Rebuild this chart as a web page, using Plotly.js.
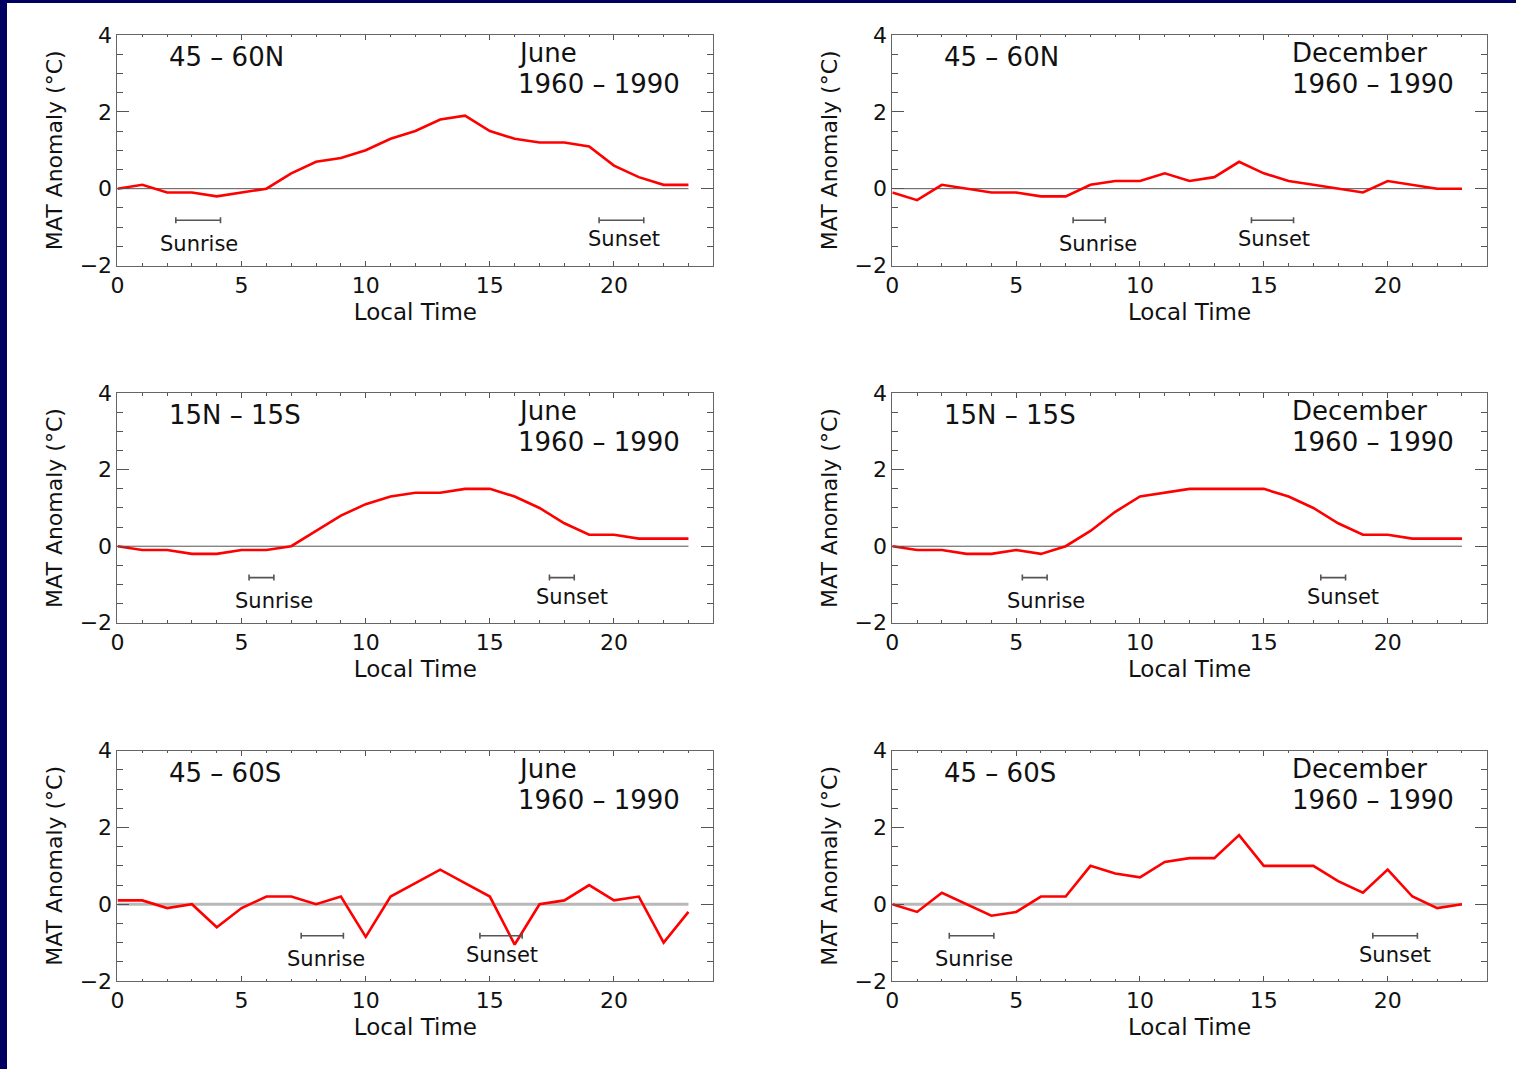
<!DOCTYPE html>
<html>
<head>
<meta charset="utf-8">
<script src="https://cdn.plot.ly/plotly-3.0.1.min.js"></script>
<style>
  html, body { margin: 0; padding: 0; background: #ffffff; }
  #chart { width: 1516px; height: 1069px; }
</style>
</head>
<body>
<div id="chart"></div>
<script>
// ---------------- data ----------------
const hours = [0, 1, 2, 3, 4, 5, 6, 7, 8, 9, 10, 11, 12, 13, 14, 15, 16, 17, 18, 19, 20, 21, 22, 23];

const regions = ["45 – 60N", "15N – 15S", "45 – 60S"];
const months = ["June", "December"];
const period = "1960 – 1990";

// MAT anomaly (°C) by local hour
const june45to60N = [0, 0.1, -0.1, -0.1, -0.2, -0.1, 0, 0.4, 0.7, 0.8, 1.0, 1.3, 1.5, 1.8, 1.9, 1.5, 1.3, 1.2, 1.2, 1.1, 0.6, 0.3, 0.1, 0.1];
const dec45to60N  = [-0.1, -0.3, 0.1, 0, -0.1, -0.1, -0.2, -0.2, 0.1, 0.2, 0.2, 0.4, 0.2, 0.3, 0.7, 0.4, 0.2, 0.1, 0, -0.1, 0.2, 0.1, 0, 0];
const june15Nto15S = [0, -0.1, -0.1, -0.2, -0.2, -0.1, -0.1, 0, 0.4, 0.8, 1.1, 1.3, 1.4, 1.4, 1.5, 1.5, 1.3, 1.0, 0.6, 0.3, 0.3, 0.2, 0.2, 0.2];
const dec15Nto15S  = [0, -0.1, -0.1, -0.2, -0.2, -0.1, -0.2, 0, 0.4, 0.9, 1.3, 1.4, 1.5, 1.5, 1.5, 1.5, 1.3, 1.0, 0.6, 0.3, 0.3, 0.2, 0.2, 0.2];
const june45to60S = [0.1, 0.1, -0.1, 0, -0.6, -0.1, 0.2, 0.2, 0, 0.2, -0.85, 0.2, 0.55, 0.9, 0.55, 0.2, -1.05, 0, 0.1, 0.5, 0.1, 0.2, -1.0, -0.2];
const dec45to60S  = [0, -0.2, 0.3, 0, -0.3, -0.2, 0.2, 0.2, 1.0, 0.8, 0.7, 1.1, 1.2, 1.2, 1.8, 1.0, 1.0, 1.0, 0.6, 0.3, 0.9, 0.2, -0.1, 0];

// sunrise / sunset ranges (local hour), panel order: row by row, June then December
const sunriseStart = [2.35, 7.3, 5.3, 5.25, 7.4, 2.3];
const sunriseEnd   = [4.15, 8.6, 6.3, 6.25, 9.1, 4.1];
const sunsetStart  = [19.4, 14.5, 17.4, 17.3, 14.6, 19.4];
const sunsetEnd    = [21.2, 16.2, 18.4, 18.3, 16.3, 21.2];

const series = [june45to60N, dec45to60N, june15Nto15S, dec15Nto15S, june45to60S, dec45to60S];

// ---------------- layout helpers ----------------
const FONT = "DejaVu Sans, Liberation Sans, Arial, sans-serif";
const xDomains = [[0.0775, 0.4705], [0.5886, 0.9807]];
const yDomains = [[0.7516, 0.9673], [0.4175, 0.6321], [0.0823, 0.2978]];
const sunriseLabelX = [3.3, 8.3, 6.3, 6.2, 8.4, 3.3];
const sunsetLabelX  = [20.4, 15.4, 18.3, 18.2, 15.5, 20.3];

const traces = [];
const layout = {
  width: 1516, height: 1069,
  margin: {l: 0, r: 0, t: 0, b: 0},
  paper_bgcolor: "#ffffff", plot_bgcolor: "#ffffff",
  showlegend: false,
  font: {family: FONT, color: "#111111"},
  annotations: [],
  shapes: [
    {type: "rect", xref: "paper", yref: "paper", x0: 0, x1: 7 / 1516, y0: 0, y1: 1, fillcolor: "#000060", line: {width: 0}, layer: "above"},
    {type: "rect", xref: "paper", yref: "paper", x0: 0, x1: 1, y0: 1 - 3 / 1069, y1: 1, fillcolor: "#000060", line: {width: 0}, layer: "above"}
  ]
};

series.forEach((vals, i) => {
  const row = Math.floor(i / 2), col = i % 2;
  const n = i + 1;
  const xa = n === 1 ? "x" : "x" + n;
  const ya = n === 1 ? "y" : "y" + n;
  const xKey = n === 1 ? "xaxis" : "xaxis" + n;
  const yKey = n === 1 ? "yaxis" : "yaxis" + n;

  layout[xKey] = {
    domain: xDomains[col], anchor: ya, range: [0, 24],
    tick0: 0, dtick: 5, ticks: "inside", ticklen: 5, tickwidth: 1, tickcolor: "#555555",
    showline: true, linecolor: "#666666", linewidth: 1, mirror: "ticks",
    showgrid: false, zeroline: false,
    minor: {dtick: 1, ticks: "inside", ticklen: 2.5, tickwidth: 1, tickcolor: "#555555", showgrid: false},
    tickfont: {family: FONT, size: 22, color: "#111111"},
    title: {text: "Local Time", font: {family: FONT, size: 23, color: "#111111"}, standoff: 6},
    fixedrange: true
  };
  layout[yKey] = {
    domain: yDomains[row], anchor: xa, range: [-2, 4],
    tick0: 0, dtick: 2, ticks: "inside", ticklen: 12, tickwidth: 1, tickcolor: "#555555",
    showline: true, linecolor: "#666666", linewidth: 1, mirror: "ticks",
    showgrid: false, zeroline: false,
    minor: {dtick: 0.5, ticks: "inside", ticklen: 6, tickwidth: 1, tickcolor: "#555555", showgrid: false},
    tickfont: {family: FONT, size: 22, color: "#111111"},
    title: {text: "MAT Anomaly (°C)", font: {family: FONT, size: 22, color: "#111111"}, standoff: 10},
    fixedrange: true
  };

  // zero reference line over the data span
  traces.push({
    type: "scatter", mode: "lines", xaxis: xa, yaxis: ya,
    x: [hours[0], hours[hours.length - 1]], y: [0, 0],
    line: row < 2 ? {color: "#555555", width: 1} : {color: "#b8b8b8", width: 3},
    hoverinfo: "skip"
  });

  // anomaly curve
  traces.push({
    type: "scatter", mode: "lines", xaxis: xa, yaxis: ya,
    x: hours, y: vals,
    line: {color: "#ff0000", width: 2.6},
    name: regions[row] + " " + months[col]
  });

  // sunrise & sunset ranges as capped bars
  [[sunriseStart[i], sunriseEnd[i]], [sunsetStart[i], sunsetEnd[i]]].forEach(([a, b]) => {
    traces.push({
      type: "scatter", mode: "markers", xaxis: xa, yaxis: ya,
      x: [a], y: [-0.82],
      marker: {size: 1, color: "rgba(0,0,0,0)"},
      error_x: {type: "data", symmetric: false, array: [b - a], arrayminus: [0], color: "#555555", thickness: 1.6, width: 3},
      hoverinfo: "skip"
    });
  });

  layout.annotations.push(
    {xref: xa, yref: ya, x: sunriseLabelX[i], y: -1.43, text: "Sunrise", showarrow: false, xanchor: "center", yanchor: "middle", font: {family: FONT, size: 21, color: "#111111"}},
    {xref: xa, yref: ya, x: sunsetLabelX[i], y: -1.32, text: "Sunset", showarrow: false, xanchor: "center", yanchor: "middle", font: {family: FONT, size: 21, color: "#111111"}},
    {xref: xa, yref: ya, x: 2.0, y: 3.43, text: regions[row], showarrow: false, xanchor: "left", yanchor: "middle", font: {family: FONT, size: 26, color: "#111111"}},
    {xref: xa, yref: ya, x: 16.05, y: 3.53, text: months[col], showarrow: false, xanchor: "left", yanchor: "middle", font: {family: FONT, size: 26, color: "#111111"}},
    {xref: xa, yref: ya, x: 16.05, y: 2.72, text: period, showarrow: false, xanchor: "left", yanchor: "middle", font: {family: FONT, size: 26, color: "#111111"}}
  );
});

Plotly.newPlot("chart", traces, layout, {staticPlot: true, displayModeBar: false});
</script>
</body>
</html>
